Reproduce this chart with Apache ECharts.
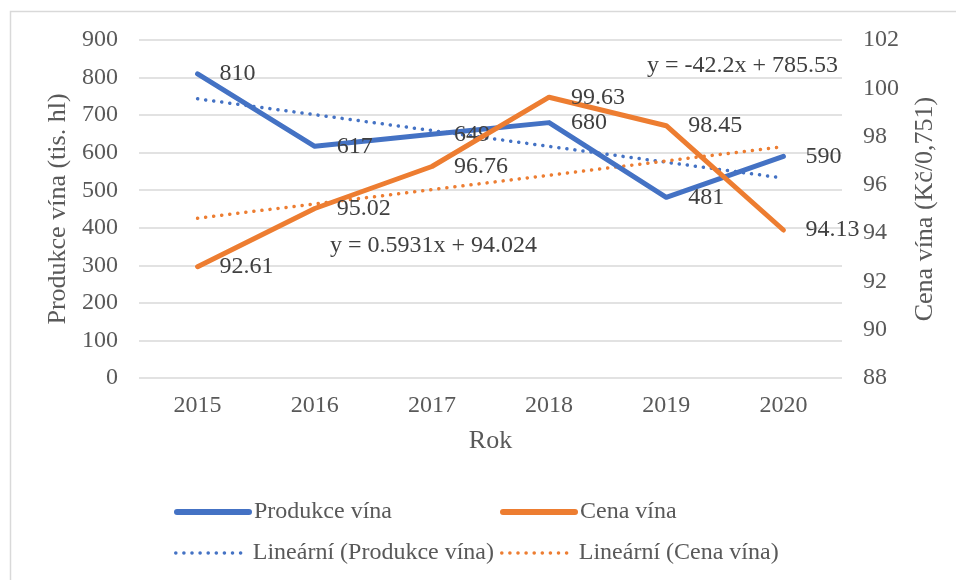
<!DOCTYPE html>
<html>
<head>
<meta charset="utf-8">
<script src="https://cdn.jsdelivr.net/npm/echarts@6/dist/echarts.min.js"></script>
<style>
  html, body { margin: 0; padding: 0; background: #fff; }
  #chart { width: 956px; height: 580px; }
</style>
</head>
<body>
<div id="chart"></div>
<script>
// data
var years = ["2015", "2016", "2017", "2018", "2019", "2020"];
var produkce = [810, 617, 649, 680, 481, 590];
var cena = [92.61, 95.02, 96.76, 99.63, 98.45, 94.13];
// trend lines
var trendProdukce = [743.33, 701.13, 658.93, 616.73, 574.53, 532.33];
var trendCena = [94.62, 95.21, 95.80, 96.40, 96.99, 97.58];

var FONT = "Liberation Serif";
var FS = 24;
var BLUE = "#4472C4";
var ORANGE = "#ED7D31";
var TXT = "#595959";
var LBL = "#404040";
var DOTS = [0.1, 8];

var chart = echarts.init(document.getElementById("chart"));

//单个图例
function legendAt(name, left, top, dotted) {
  return {
    data: [name],
    left: left,
    top: top,
    itemWidth: 72,
    itemHeight: 12,
    itemGap: 0,
    itemStyle: { opacity: 0 },
    lineStyle: dotted
      ? { width: 3.5, type: DOTS, cap: "round" }
      : { width: 6, type: "solid", cap: "round" },
    textStyle: { fontFamily: FONT, fontSize: FS, color: TXT }
  };
}

var option = {
  backgroundColor: "#fff",
  animation: false,
  grid: { left: 139, right: 114, top: 40, bottom: 202 },
  legend: [
    legendAt("Produkce vína", 169, 495, false),
    legendAt("Cena vína", 495, 495, false),
    legendAt("Lineární (Produkce vína)", 169, 536, true),
    legendAt("Lineární (Cena vína)", 495, 536, true)
  ],
  xAxis: {
    type: "category",
    data: years,
    boundaryGap: true,
    name: "Rok",
    nameLocation: "middle",
    nameGap: 50,
    nameTextStyle: { fontFamily: FONT, fontSize: 26, color: TXT },
    axisLine: { show: false },
    axisTick: { show: false },
    axisLabel: { fontFamily: FONT, fontSize: FS, color: TXT, margin: 16 }
  },
  yAxis: [
    {
      type: "value",
      min: 0, max: 900, interval: 100,
      name: "Produkce vína (tis. hl)",
      nameLocation: "middle",
      nameGap: 67,
      nameTextStyle: { fontFamily: FONT, fontSize: 26, color: TXT },
      axisLine: { show: false },
      axisTick: { show: false },
      axisLabel: { fontFamily: FONT, fontSize: FS, color: TXT, margin: 21 },
      splitLine: { lineStyle: { color: "#d9d9d9", width: 1.5 } }
    },
    {
      type: "value",
      min: 88, max: 102, interval: 2,
      name: "Cena vína (Kč/0,751)",
      nameLocation: "middle",
      nameGap: 70,
      nameRotate: 90,
      nameTextStyle: { fontFamily: FONT, fontSize: 26, color: TXT },
      axisLine: { show: false },
      axisTick: { show: false },
      axisLabel: { fontFamily: FONT, fontSize: FS, color: TXT, margin: 21 },
      splitLine: { show: false }
    }
  ],
  series: [
    {
      name: "Lineární (Produkce vína)",
      type: "line",
      yAxisIndex: 0,
      data: trendProdukce,
      symbol: "none",
      z: 1,
      lineStyle: { color: BLUE, width: 3.5, type: DOTS, cap: "round" },
      itemStyle: { color: BLUE }
    },
    {
      name: "Lineární (Cena vína)",
      type: "line",
      yAxisIndex: 1,
      data: trendCena,
      symbol: "none",
      z: 1,
      lineStyle: { color: ORANGE, width: 3.5, type: DOTS, cap: "round" },
      itemStyle: { color: ORANGE }
    },
    {
      name: "Produkce vína",
      type: "line",
      yAxisIndex: 0,
      data: produkce,
      symbol: "circle",
      symbolSize: 0,
      z: 3,
      lineStyle: { color: BLUE, width: 5, cap: "round", join: "round" },
      itemStyle: { color: BLUE },
      label: {
        show: true, position: "right", distance: 22,
        fontFamily: FONT, fontSize: FS, color: LBL
      }
    },
    {
      name: "Cena vína",
      type: "line",
      yAxisIndex: 1,
      data: cena,
      symbol: "circle",
      symbolSize: 0,
      z: 4,
      lineStyle: { color: ORANGE, width: 5, cap: "round", join: "round" },
      itemStyle: { color: ORANGE },
      label: {
        show: true, position: "right", distance: 22,
        fontFamily: FONT, fontSize: FS, color: LBL,
        formatter: function (p) { return p.value.toFixed(2); }
      }
    }
  ],
  graphic: [
    {
      type: "polyline",
      shape: { points: [[10.5, 580], [10.5, 11.5], [956, 11.5]] },
      style: { stroke: "#d9d9d9", lineWidth: 1.5, fill: null },
      silent: true
    },
    {
      type: "text", x: 838, y: 66,
      style: { text: "y = -42.2x + 785.53", font: FS + "px " + FONT, fill: LBL, textAlign: "right", textVerticalAlign: "middle" }
    },
    {
      type: "text", x: 330, y: 246,
      style: { text: "y = 0.5931x + 94.024", font: FS + "px " + FONT, fill: LBL, textAlign: "left", textVerticalAlign: "middle" }
    }
  ]
};

chart.setOption(option);
</script>
</body>
</html>
